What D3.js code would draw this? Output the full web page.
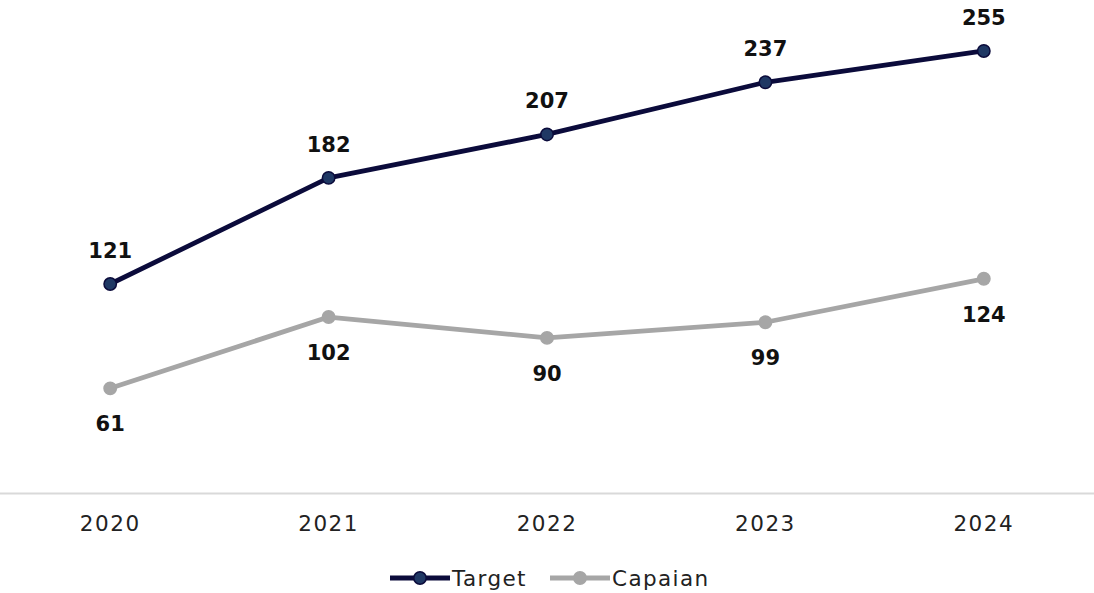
<!DOCTYPE html>
<html>
<head>
<meta charset="utf-8">
<script src="https://cdn.jsdelivr.net/npm/d3@7"></script>
<style>
  html, body { margin: 0; padding: 0; background: #fff; }
  svg { display: block; }
  text { font-family: "DejaVu Sans", sans-serif; }
</style>
</head>
<body>
<svg id="chart" width="1094" height="593"></svg>
<script>
// Yearly values for the two series
const years = ["2020", "2021", "2022", "2023", "2024"];
const targetValues = [121, 182, 207, 237, 255];
const capaianValues = [61, 102, 90, 99, 124];
const seriesNames = ["Target", "Capaian"];

const W = 1094, H = 593;
const svg = d3.select("#chart");

const x = d3.scaleBand().domain(years).range([1, 1093]);
const y = d3.scaleLinear().domain([0, 280]).range([494.4, 7.5]);

const styles = {
  Target: { line: "#0b0b3b", fill: "#1f3864", stroke: "#0b0b3b", labelDy: -26 },
  Capaian: { line: "#a6a6a6", fill: "#a6a6a6", stroke: "#a6a6a6", labelDy: 43 }
};

const series = [
  { name: "Target", values: targetValues },
  { name: "Capaian", values: capaianValues }
];

// baseline axis
const xAxis = d3.axisBottom(x).tickSize(0).tickPadding(22);
const gx = svg.append("g").attr("transform", `translate(0,${y(0) - 1})`).call(xAxis);
gx.select(".domain").remove();
gx.append("line").attr("x1", 0).attr("x2", W).attr("y1", 0).attr("y2", 0)
  .attr("stroke", "#d9d9d9").attr("stroke-width", 2);
gx.selectAll(".tick text")
  .attr("font-size", 21.5).attr("fill", "#222").attr("letter-spacing", 1.5)
  .attr("font-family", "DejaVu Sans, sans-serif");

const cx = d => x(d) + x.bandwidth() / 2;
const line = d3.line().x((d, i) => cx(years[i])).y(d => y(d));

series.slice().reverse().forEach(s => {
  const st = styles[s.name];
  const g = svg.append("g");
  g.append("path").datum(s.values).attr("d", line)
    .attr("fill", "none").attr("stroke", st.line).attr("stroke-width", 4.8)
    .attr("stroke-linejoin", "round");
  g.selectAll("circle").data(s.values).join("circle")
    .attr("cx", (d, i) => cx(years[i])).attr("cy", d => y(d)).attr("r", 6.2)
    .attr("fill", st.fill).attr("stroke", st.stroke).attr("stroke-width", 1.5);
  g.selectAll("text").data(s.values).join("text")
    .attr("x", (d, i) => cx(years[i])).attr("y", d => y(d) + st.labelDy)
    .attr("text-anchor", "middle").attr("font-weight", "bold").attr("font-size", 21)
    .attr("fill", "#111").text(d => d);
});

// legend
const legend = svg.append("g").attr("transform", "translate(390,578)");
const items = [
  { name: "Target", x: 0 },
  { name: "Capaian", x: 160 }
];
items.forEach(it => {
  const st = styles[it.name];
  const g = legend.append("g").attr("transform", `translate(${it.x},0)`);
  g.append("line").attr("x1", 0).attr("x2", 60).attr("y1", 0).attr("y2", 0)
    .attr("stroke", st.line).attr("stroke-width", 5);
  g.append("circle").attr("cx", 30).attr("cy", 0).attr("r", 6.2)
    .attr("fill", st.fill).attr("stroke", st.stroke).attr("stroke-width", 1.5);
  g.append("text").attr("x", 62).attr("y", 0).attr("dy", "0.35em")
    .attr("font-size", 21.5).attr("fill", "#222").attr("letter-spacing", 1.4).text(it.name);
});
</script>
</body>
</html>
